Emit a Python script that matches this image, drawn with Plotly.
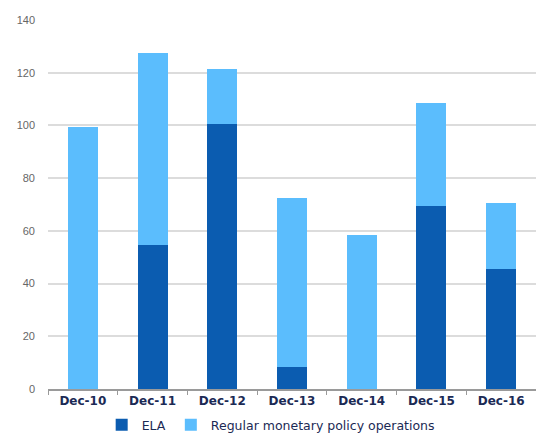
import plotly.graph_objects as go

categories = ["Dec-10", "Dec-11", "Dec-12", "Dec-13", "Dec-14", "Dec-15", "Dec-16"]
ela = [0, 54.6, 100.4, 8.5, 0, 69.5, 45.5]
regular_ops = [99.3, 72.7, 21.0, 64.0, 58.4, 39.0, 24.9]
y_ticks = [0, 20, 40, 60, 80, 100, 120, 140]

fig = go.Figure()
fig.add_trace(go.Bar(x=categories, y=ela, name="ELA", marker_color="#0B5CB0",
                     marker_line_width=0))
fig.add_trace(go.Bar(x=categories, y=regular_ops, name="Regular monetary policy operations",
                     marker_color="#5BBDFD", marker_line_width=0))

fig.update_layout(
    barmode="stack",
    bargap=0.57,
    width=536, height=434,
    margin=dict(l=48, r=0, t=20, b=45, autoexpand=False),
    plot_bgcolor="white",
    paper_bgcolor="white",
    font=dict(family="DejaVu Sans", size=10, color="#1B2A55"),
    showlegend=True,
    legend=dict(orientation="h", xref="container", x=0.505, xanchor="center",
                yref="container", y=(434 - 425) / 434, yanchor="middle",
                font=dict(family="DejaVu Sans", size=12.5, color="#1B2A55"),
                itemwidth=30, tracegroupgap=0, traceorder="normal"),
)
fig.update_yaxes(range=[0, 140], tickvals=y_ticks, showgrid=True,
                 gridcolor="#DCDCDC", gridwidth=1.5, zeroline=False,
                 tickfont=dict(family="Liberation Sans", size=11, color="#666666"),
                 ticks="", ticklabelstandoff=12)
fig.update_xaxes(showline=True, linecolor="#9A9A9A", linewidth=1.5,
                 ticks="outside", tickson="boundaries", ticklen=4,
                 tickcolor="#9A9A9A",
                 tickfont=dict(family="DejaVu Sans", size=12, color="#1B2A55", weight="bold"))

fig.write_html("out.html")
